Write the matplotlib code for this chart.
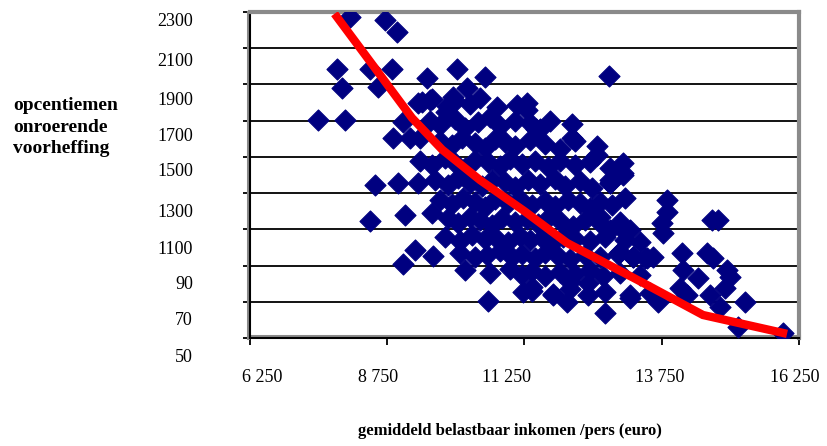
import matplotlib.pyplot as plt
import matplotlib.transforms as mtransforms
from matplotlib.lines import Line2D

plt.rcParams['font.family'] = ['Liberation Serif', 'DejaVu Serif']

# === data ===
y_ticks = [500, 700, 900, 1100, 1300, 1500, 1700, 1900, 2100, 2300]
y_ticklabels = ['50', '70', '90', '1100', '1300', '1500', '1700', '1900', '2100', '2300']
x_ticks = [6250, 8750, 11250, 13750, 16250]
x_ticklabels = ['6 250', '8 750', '11 250', '13 750', '16 250']

# scattered municipalities, outliers first
x_out = [8070, 8710, 8925, 7835, 8434, 8834, 7925, 8580, 7488, 7979, 9470, 10017, 10527, 10200,
         12784, 8525, 8944, 9308, 8434, 9071, 9562, 9253, 9581, 9035, 10582, 11219, 9035, 8854,
         9164, 9346, 9382, 9528, 9819, 9947, 11112]
y_out = [2270, 2255, 2190, 1985, 1985, 1985, 1880, 1886, 1704, 1704, 1935, 1985, 1941, 1880,
         1947, 1345, 1356, 1356, 1146, 1180, 1190, 986, 953, 909, 705, 755, 1693, 1604,
         1604, 1604, 1803, 1814, 1748, 1831, 1787]

x_east = [13839, 13839, 13748, 13766, 14658, 14768, 14112, 14567, 14677, 14931, 14986, 14895,
          14130, 14404, 14076, 14203, 14622, 14804, 15259, 15132, 15951, 13676, 12711, 13166,
          12019, 11765, 11382, 12402, 12074, 13475, 13585, 13221, 12984, 12802, 13039, 13166,
          13075, 12802, 13039, 12620, 11291, 12110, 12565, 11456, 13039, 12802]
y_east = [1262, 1196, 1135, 1080, 1152, 1152, 970, 970, 942, 876, 837, 777,
          876, 832, 777, 738, 738, 672, 699, 561, 528, 699, 638, 721,
          699, 738, 782, 804, 810, 942, 948, 948, 975, 1097, 1097, 1097,
          1273, 1356, 1400, 1168, 1759, 1605, 1511, 1655, 1411, 1373]

x_core = [9310, 9564, 9837, 9983, 10256, 10438, 10748, 11294,
          9528, 9710, 9983, 10165, 10402, 10620, 10803, 11076, 11349, 11531, 11713, 12114,
          9710, 9928, 10111, 10347, 10529, 10711, 10894, 11076, 11349, 11622, 11895, 12168, 12569,
          9346, 9564, 9801, 9983, 10165, 10347, 10584, 10803, 10985, 11203, 11440, 11677, 11895,
          12168, 12441, 12806, 13042,
          9619, 9856, 10038, 10256, 10475, 10657, 10894, 11076, 11313, 11531, 11804, 11986,
          12259, 12478, 12806,
          9710, 9928, 10129, 10347, 10529, 10711, 10948, 11167, 11385, 11622, 11804, 12041,
          12259, 12441, 12624, 12842,
          9856, 10038, 10256, 10438, 10657, 10839, 11076, 11294, 11494, 11677, 11895, 12132,
          12350, 12624, 12988,
          9801, 10074, 10293, 10529, 10711, 10948, 11167, 11349, 11567, 11750, 11950, 12168,
          12441, 12715, 13079, 13352,
          10074, 10347, 10566, 10803, 11021, 11203, 11440, 11622, 11859, 12077, 12350, 12624,
          12951, 13224, 13443,
          10165, 10620, 10985, 11203, 11385, 11622, 11895, 12168, 12441, 12679, 12988, 13352,
          11385, 11768, 12077, 12405, 12715, 13170, 13534]
y_core = [1795, 1820, 1780, 1810, 1790, 1825, 1775, 1800,
          1700, 1675, 1710, 1660, 1695, 1720, 1670, 1700, 1685, 1655, 1700, 1680,
          1590, 1565, 1605, 1575, 1550, 1600, 1580, 1560, 1595, 1570, 1545, 1590, 1560,
          1480, 1455, 1495, 1465, 1440, 1485, 1470, 1450, 1490, 1460, 1475, 1445, 1480,
          1455, 1470, 1440, 1465,
          1370, 1345, 1385, 1355, 1340, 1375, 1360, 1335, 1370, 1350, 1380, 1340,
          1365, 1330, 1355,
          1260, 1240, 1275, 1250, 1225, 1265, 1245, 1270, 1235, 1255, 1230, 1260,
          1245, 1220, 1250, 1235,
          1160, 1135, 1170, 1150, 1125, 1165, 1140, 1155, 1130, 1160, 1145, 1120,
          1150, 1135, 1140,
          1060, 1035, 1070, 1045, 1055, 1030, 1065, 1040, 1050, 1025, 1060, 1045,
          1035, 1055, 1040, 1030,
          970, 945, 960, 980, 950, 965, 940, 970, 955, 935, 960, 945,
          965, 950, 940,
          875, 860, 880, 850, 870, 845, 865, 855, 875, 840, 860, 850,
          760, 745, 770, 740, 755, 735, 750]

x_sc = x_out + x_east + x_core
y_sc = y_out + y_east + y_core

# trend line
x_fit = [7835, 8650, 9201, 9750, 10440, 11250, 12024, 13481, 14501, 15958]
y_fit = [2272, 1940, 1715, 1540, 1372, 1200, 1025, 793, 627, 528]

# === figure ===
fig = plt.figure(figsize=(8.28, 4.46), dpi=100)
ax = fig.add_axes([250 / 828, 108 / 446, 549 / 828, 326 / 446])
ax.set_xlim(6250, 16250)
ax.set_ylim(500, 2300)

ax.set_yticks(y_ticks)
ax.set_xticks(x_ticks)
ax.set_yticklabels([])
ax.set_xticklabels([])
ax.yaxis.grid(True, color='black', linewidth=1.3)
ax.set_axisbelow(True)
ax.tick_params(axis='both', direction='out', length=5, width=1.3, color='black')

for side in ['top', 'right']:
    ax.spines[side].set_color('#8a8a8a')
    ax.spines[side].set_linewidth(3)
for side in ['left', 'bottom']:
    ax.spines[side].set_color('black')
    ax.spines[side].set_linewidth(1.5)

# grey shadow next to the black axes
px = fig.dpi_scale_trans
ax.add_line(Line2D([0, 0], [0, 1], color='#8a8a8a', linewidth=2.2, clip_on=False, zorder=1.9,
                   transform=ax.transAxes + mtransforms.ScaledTranslation(-0.02, 0, px)))
ax.add_line(Line2D([0, 1], [0, 0], color='#8a8a8a', linewidth=2.2, clip_on=False, zorder=1.9,
                   transform=ax.transAxes + mtransforms.ScaledTranslation(0, 0.025, px)))

ax.scatter(x_sc, y_sc, marker='D', s=115, color='#000080', linewidths=0.8, zorder=3)
ax.plot(x_fit, y_fit, color='#ff0000', linewidth=6, solid_joinstyle='miter', zorder=4)

# tick labels (drawn where they sit in the picture)
y_off = [19, 19, 19, 20, 19, 15, 16, 16, 13, 10]
for v, lab, dy in zip(y_ticks, y_ticklabels, y_off):
    ax.text(0, v, lab, ha='right', va='center', fontsize=13,
            transform=ax.get_yaxis_transform() + mtransforms.ScaledTranslation(-0.57, -dy / 100, px))

x_off = [12, -9, -18, -2, -4]
for v, lab, dx in zip(x_ticks, x_ticklabels, x_off):
    ax.text(v, 0, lab, ha='center', va='center', fontsize=13,
            transform=ax.get_xaxis_transform() + mtransforms.ScaledTranslation(dx / 100, -0.40, px))

fig.text(13 / 828, 1 - 127 / 446, 'opcentiemen\nonroerende\nvoorheffing', ha='left', va='center',
         fontsize=14, fontweight='bold', linespacing=1.35)
fig.text(510 / 828, 1 - 431 / 446, 'gemiddeld belastbaar inkomen /pers (euro)', ha='center',
         va='center', fontsize=12, fontweight='bold')

fig.savefig('out.png', dpi=100)
